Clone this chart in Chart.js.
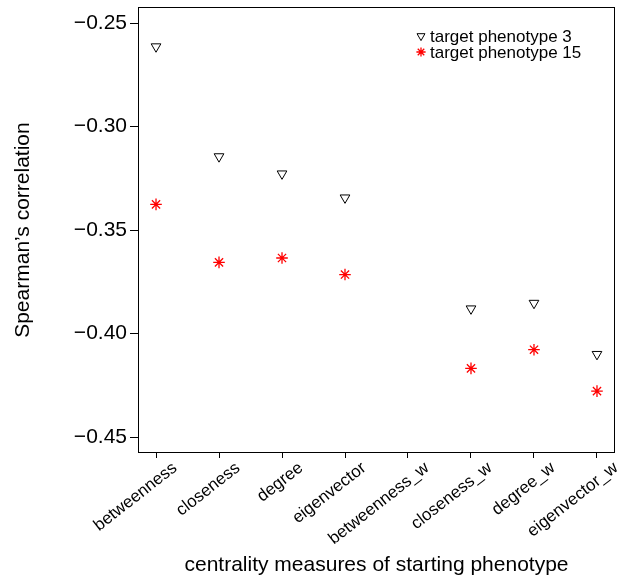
<!DOCTYPE html>
<html><head><meta charset="utf-8">
<script src="https://cdn.jsdelivr.net/npm/chart.js@4/dist/chart.umd.min.js"></script>
<style>html,body{margin:0;padding:0;background:#fff;}</style>
</head><body>
<canvas id="c" width="624" height="582" style="display:block;width:624px;height:582px"></canvas>
<script>
const categories = ['betweenness','closeness','degree','eigenvector','betweenness_w','closeness_w','degree_w','eigenvector_w'];
const phenotype3 = [-0.2614, -0.3145, -0.3228, -0.3344, null, -0.3880, -0.3853, -0.4100];
const phenotype15 = [-0.3376, -0.3656, -0.3635, -0.3715, null, -0.4168, -0.4078, -0.4278];
const yTicks = [-0.45, -0.40, -0.35, -0.30, -0.25];
const seriesNames = ['target phenotype 3', 'target phenotype 15'];
const xTitle = 'centrality measures of starting phenotype';
const yTitle = "Spearman\u2019s correlation";

const FONT = "'Liberation Sans', Arial, Helvetica, sans-serif";
const toPts = arr => arr.map((v, i) => v === null ? null : {x: i + 1, y: v}).filter(p => p);

const ds = [
  {label: seriesNames[0], data: toPts(phenotype3), pointStyle: 'triangle', rotation: 180,
   pointRadius: 5.6, pointHoverRadius: 5.6, borderColor: '#000', backgroundColor: 'rgba(0,0,0,0)',
   pointBorderWidth: 1, borderWidth: 1},
  {label: seriesNames[1], data: toPts(phenotype15), pointStyle: 'star',
   pointRadius: 5.8, pointHoverRadius: 5.8, borderColor: '#ff0000', backgroundColor: '#ff0000',
   pointBorderWidth: 1.3, borderWidth: 1.3}
];

const boxAndLegend = {
  id: 'boxAndLegend',
  afterDraw(chart) {
    const {ctx, chartArea: a} = chart;
    ctx.save();
    ctx.strokeStyle = '#000';
    ctx.lineWidth = 1;
    ctx.strokeRect(Math.round(a.left) + 0.5, Math.round(a.top) + 0.5,
                   Math.round(a.right - a.left) - 1, Math.round(a.bottom - a.top) - 1);
    // legend
    const lx = 421, ly0 = 36, dy = 16;
    chart.data.datasets.forEach((d, i) => {
      const y = ly0 + i * dy;
      ctx.strokeStyle = d.borderColor;
      ctx.fillStyle = d.backgroundColor;
      ctx.lineWidth = d.pointBorderWidth;
      Chart.helpers.drawPoint(ctx, {pointStyle: d.pointStyle, rotation: d.rotation || 0, radius: 4.6, borderWidth: d.pointBorderWidth}, lx, y);
      ctx.fillStyle = '#000';
      ctx.font = '17px ' + FONT;
      ctx.textAlign = 'left';
      ctx.textBaseline = 'middle';
      ctx.fillText(d.label, 430, y + 1);
    });
    ctx.restore();
  }
};

new Chart(document.getElementById('c'), {
  type: 'scatter',
  data: {datasets: ds},
  plugins: [boxAndLegend],
  options: {
    responsive: false,
    animation: false,
    devicePixelRatio: 1,
    layout: {padding: {top: 4, right: 9, left: 0, bottom: 0}},
    plugins: {legend: {display: false}, tooltip: {enabled: false}},
    scales: {
      x: {
        type: 'linear', min: 0.714, max: 8.286,
        afterBuildTicks: s => { s.ticks = categories.map((_, i) => ({value: i + 1})); },
        afterFit: s => { s.height = 129; s.paddingLeft = 0; s.paddingRight = 0; },
        grid: {drawOnChartArea: false, drawTicks: true, tickLength: 5, color: '#000', lineWidth: 1},
        border: {display: false},
        ticks: {
          autoSkip: false, minRotation: 38, maxRotation: 38, padding: 0, labelOffset: 19,
          color: '#000', font: {family: FONT, size: 17},
          callback: v => categories[Math.round(v) - 1]
        },
        title: {display: true, text: xTitle, color: '#000', font: {family: FONT, size: 21},
                padding: {top: 0, bottom: 4}}
      },
      y: {
        type: 'linear', min: -0.4577, max: -0.2423,
        afterBuildTicks: s => { s.ticks = yTicks.map(v => ({value: v})); },
        afterFit: s => { s.width = 138; s.paddingTop = 0; s.paddingBottom = 0; },
        grid: {drawOnChartArea: false, drawTicks: true, tickLength: 8, color: '#000', lineWidth: 1},
        border: {display: false},
        ticks: {
          padding: 3, color: '#000', font: {family: FONT, size: 21},
          callback: v => v.toFixed(2).replace('-', '\u2212')
        },
        title: {display: true, text: yTitle, color: '#000', font: {family: FONT, size: 21},
                padding: {top: 11, bottom: 0}}
      }
    }
  }
});
</script>
</body></html>
